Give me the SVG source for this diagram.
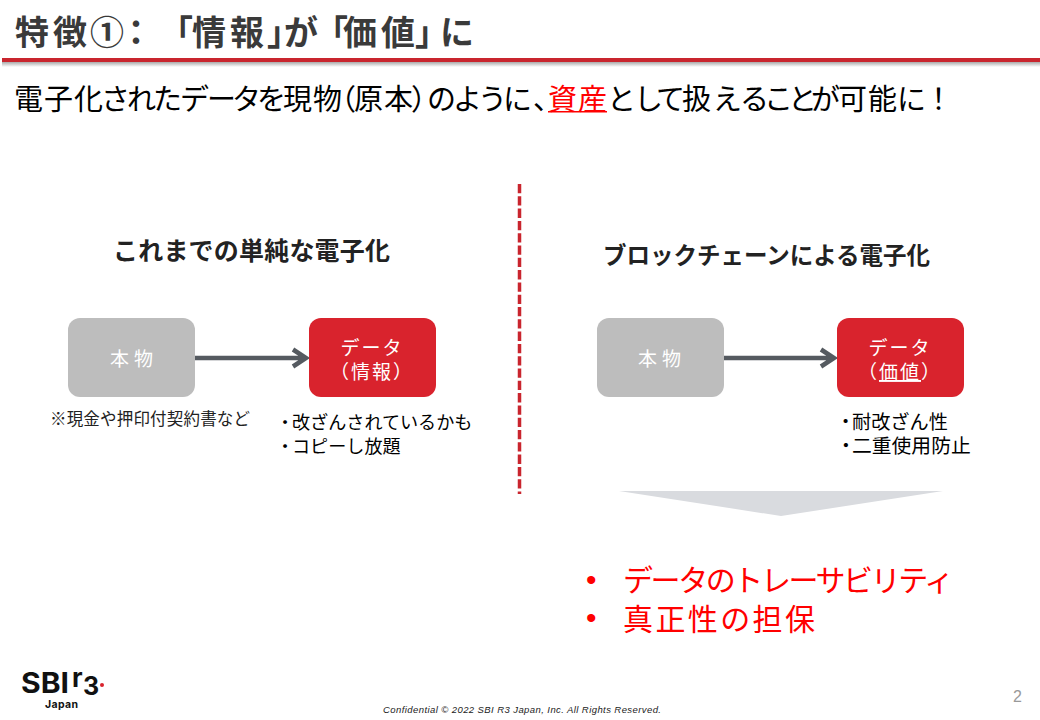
<svg xmlns="http://www.w3.org/2000/svg" width="1040" height="720" viewBox="0 0 1040 720">
<style>
text{font-family:"Liberation Sans","Noto Sans CJK JP",sans-serif}
.j{font-family:"Noto Sans CJK JP",sans-serif}
.i{font-family:Inter,sans-serif;font-weight:700;fill:#111}
.n{font-size:19px;fill:#fff;text-anchor:middle}
.h{font-weight:700;fill:#222}
.s{fill:#000}
.r{font-size:30px;fill:#f00}
.c{fill:none;stroke:#555a60;stroke-width:4.500}
</style>
<defs><linearGradient id="sh" x1="0" y1="0" x2="0" y2="1"><stop offset="0" stop-color="#aaa"/><stop offset="1" stop-color="#fff"/></linearGradient></defs>
<rect width="1040" height="720" fill="#fff"/>
<rect x="2" y="62" width="1038" height="5" fill="url(#sh)"/>
<rect x="2" y="58" width="1038" height="4" fill="#c9252e"/>
<text id="title" class="j" y="45" font-size="34" font-weight="700" fill="#3a3a3a" x="15 53 90 119 159 192 230 267 284 314 343 381 415 440">特徴①：「情報」が「価値」に</text>
<text id="sub" class="j" y="110" font-size="29" fill="#000" x="14 44 74 101 127 153 180 207 232 257 283 313 327 354 384 411 427 453 478 503 533">電子化されたデータを現物（原本）のように、</text>
<text class="j" y="110" font-size="29" fill="#f00" x="548 578">資産</text>
<rect x="548" y="111" width="59" height="1.500" fill="#f00"/>
<text class="j" y="110" font-size="29" fill="#000" x="607 634 656 682 713 740 764 788 811 838 868 897 924">として扱えることが可能に！</text>
<text id="hl" class="j h" x="113" y="260" font-size="25" textLength="277">これまでの単純な電子化</text>
<text id="hr" class="j h" x="603" y="264" font-size="23.500" textLength="327">ブロックチェーンによる電子化</text>
<line id="divider" x1="519.500" y1="184" x2="519.500" y2="494" stroke="#c9252e" stroke-width="3.500" stroke-dasharray="9.300 3"/>
<g id="connectors">
<path class="c" d="M195 358H305M293 349.500L306 358L293 366.500"/>
<path class="c" d="M724 358H833M821 349.500L834 358L821 366.500"/>
</g>
<g id="node-a"><rect x="68" y="318" width="127" height="79" rx="12" fill="#bdbdbd"/><text class="j n" x="134" y="366" letter-spacing="5">本物</text></g>
<g id="node-b"><rect x="309" y="318" width="127" height="79" rx="12" fill="#d9232d"/><text class="j n" x="372" y="355" letter-spacing="2">データ</text><text class="j n" x="372" y="379" letter-spacing="2">（情報）</text></g>
<g id="node-c"><rect x="597" y="318" width="127" height="79" rx="12" fill="#bdbdbd"/><text class="j n" x="662" y="366" letter-spacing="5">本物</text></g>
<g id="node-d"><rect x="837" y="318" width="127" height="79" rx="12" fill="#d9232d"/><text class="j n" x="900" y="355" letter-spacing="2">データ</text><text class="j n" x="900" y="379" letter-spacing="2">（<tspan text-decoration="underline">価値</tspan>）</text></g>
<text class="j" x="50" y="425" font-size="16.500" fill="#222" textLength="200">※現金や押印付契約書など</text>
<text class="j s" y="429" font-size="18.100" x="276 292">・改ざんされているかも</text>
<text class="j s" y="453" font-size="18.100" x="276 292">・コピーし放題</text>
<text class="j s" y="429" font-size="19.200" x="836 852">・耐改ざん性</text>
<text class="j s" y="453" font-size="19.800" x="836 852">・二重使用防止</text>
<polygon id="down" points="619,491 943,491 781,516" fill="#d9dbdf"/>
<text class="r" x="586" y="590">•</text>
<text class="r" x="586" y="628">•</text>
<text class="j r" x="623" y="591" textLength="331">データのトレーサビリティ</text>
<text class="j r" x="623" y="630" textLength="192">真正性の担保</text>
<g id="logo">
<text class="i" x="21" y="693" font-size="28" textLength="48" lengthAdjust="spacingAndGlyphs">SBI</text>
<text class="i" x="72" y="687" font-size="26">r</text>
<text class="i" x="83" y="695" font-size="25">3</text>
<circle cx="102" cy="685" r="2" fill="#d9232d"/>
<text class="i" x="45" y="708" font-size="10.500" textLength="33">Japan</text>
</g>
<text x="383" y="713" font-size="9.500" font-style="italic" fill="#222" textLength="278">Confidential © 2022 SBI R3 Japan, Inc. All Rights Reserved.</text>
<text x="1013" y="702" font-size="16" fill="#999">2</text>
</svg>
